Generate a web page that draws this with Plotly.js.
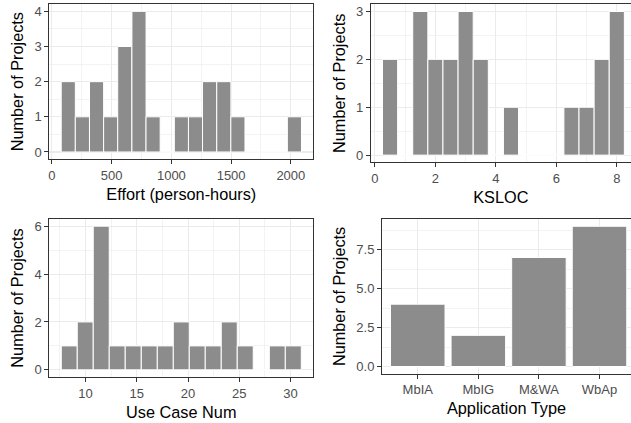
<!DOCTYPE html>
<html>
<head>
<meta charset="utf-8">
<script src="https://cdn.plot.ly/plotly-3.0.1.min.js"></script>
<style>html,body{margin:0;padding:0;background:#fff;}#chart{width:631px;height:423px;}</style>
</head>
<body>
<div id="chart"></div>
<script>
// Panel 1: Effort histogram (bin centers, counts)
const effortBins = [137, 255, 374, 492, 610, 729, 847, 965, 1084, 1202, 1320, 1439, 1557, 1675, 1794, 1912, 2030];
const effortCounts = [2, 1, 2, 1, 3, 4, 1, 0, 1, 1, 2, 2, 1, 0, 0, 0, 1];
const effortBinWidth = 118.3;

// Panel 2: KSLOC histogram
const klocBins = [0.5, 1.0, 1.5, 2.0, 2.5, 3.0, 3.5, 4.0, 4.5, 5.0, 5.5, 6.0, 6.5, 7.0, 7.5, 8.0];
const klocCounts = [2, 0, 3, 2, 2, 3, 2, 0, 1, 0, 0, 0, 1, 1, 2, 3];
const klocBinWidth = 0.5;

// Panel 3: Use case number histogram
const ucBins = [8.41, 9.97, 11.53, 13.09, 14.65, 16.22, 17.78, 19.34, 20.90, 22.46, 24.02, 25.58, 27.15, 28.71, 30.27];
const ucCounts = [1, 2, 6, 1, 1, 1, 1, 2, 1, 1, 2, 1, 0, 1, 1];
const ucBinWidth = 1.561;

// Panel 4: Application type bar chart
const appTypes = ["MbIA", "MbIG", "M&WA", "WbAp"];
const appCounts = [4, 2, 7, 9];

const FILL = "#8C8C8C";
const FONT = "Liberation Sans, Arial, sans-serif";
const TICKC = "#4D4D4D";
const LINEC = "#333333";
const GRID = "#EBEBEB";

function bar(x, y, w, xa, ya) {
  return {type: "bar", x: x, y: y, width: w, xaxis: xa, yaxis: ya,
    marker: {color: FILL, line: {color: "#FFFFFF", width: 1}},
    showlegend: false, hoverinfo: "skip"};
}

const traces = [
  bar(effortBins, effortCounts, effortBinWidth, "x", "y"),
  bar(klocBins, klocCounts, klocBinWidth, "x2", "y2"),
  bar(ucBins, ucCounts, ucBinWidth, "x3", "y3"),
  bar(appTypes, appCounts, 0.9, "x4", "y4")
];

function ax(o) {
  const base = {
    showline: true, linecolor: LINEC, linewidth: 1,
    ticks: "outside", ticklen: 4, tickwidth: 1, tickcolor: LINEC,
    tickfont: {family: FONT, size: 13, color: TICKC},
    showgrid: true, gridcolor: GRID, gridwidth: 1.1,
    zeroline: false, fixedrange: true, layer: "below traces",
    automargin: false
  };
  return Object.assign(base, o);
}
function ttl(t, s) {
  return {text: t, font: {family: FONT, size: 16.3, color: "#000"}, standoff: s};
}

const layout = {
  width: 631, height: 423,
  margin: {l: 0, r: 0, t: 0, b: 0},
  paper_bgcolor: "#fff", plot_bgcolor: "#fff",
  bargap: 0,
  xaxis: ax({domain: [0.0781, 0.4965], range: [-22, 2188], tickvals: [0, 500, 1000, 1500, 2000],
    minor: {tickvals: [250, 750, 1250, 1750], showgrid: true, gridcolor: GRID, gridwidth: 0.6, ticks: ""},
    mirror: true, anchor: "y", title: ttl("Effort (person-hours)", 6)}),
  yaxis: ax({domain: [0.6241, 0.9898], range: [-0.2, 4.2], tickvals: [0, 1, 2, 3, 4],
    minor: {tickvals: [0.5, 1.5, 2.5, 3.5], showgrid: true, gridcolor: GRID, gridwidth: 0.6, ticks: ""},
    mirror: true, anchor: "x", title: ttl("Number of Projects", 6)}),
  xaxis2: ax({domain: [0.5875, 1.0], range: [-0.14, 8.47], tickvals: [0, 2, 4, 6, 8],
    minor: {tickvals: [1, 3, 5, 7], showgrid: true, gridcolor: GRID, gridwidth: 0.6, ticks: ""},
    mirror: true, anchor: "y2", title: ttl("KSLOC", 6)}),
  yaxis2: ax({domain: [0.6163, 0.9898], range: [-0.15, 3.15], tickvals: [0, 1, 2, 3],
    minor: {tickvals: [0.5, 1.5, 2.5], showgrid: true, gridcolor: GRID, gridwidth: 0.6, ticks: ""},
    mirror: false, anchor: "x2", title: ttl("Number of Projects", 6)}),
  xaxis3: ax({domain: [0.0781, 0.4965], range: [6.46, 32.22], tickvals: [10, 15, 20, 25, 30],
    minor: {tickvals: [7.5, 12.5, 17.5, 22.5, 27.5], showgrid: true, gridcolor: GRID, gridwidth: 0.6, ticks: ""},
    mirror: true, anchor: "y3", title: ttl("Use Case Num", 6)}),
  yaxis3: ax({domain: [0.1087, 0.4823], range: [-0.3, 6.3], tickvals: [0, 2, 4, 6],
    minor: {tickvals: [1, 3, 5], showgrid: true, gridcolor: GRID, gridwidth: 0.6, ticks: ""},
    mirror: true, anchor: "x3", title: ttl("Number of Projects", 6)}),
  xaxis4: ax({domain: [0.6054, 1.0], range: [-0.59, 3.52], type: "category",
    mirror: true, anchor: "y4", title: ttl("Application Type", 6)}),
  yaxis4: ax({domain: [0.1170, 0.4816], range: [-0.45, 9.45], tickvals: [0, 2.5, 5, 7.5],
    ticktext: ["0.0", "2.5", "5.0", "7.5"],
    minor: {tickvals: [1.25, 3.75, 6.25, 8.75], showgrid: true, gridcolor: GRID, gridwidth: 0.6, ticks: ""},
    mirror: false, anchor: "x4", title: ttl("Number of Projects", 6)})
};

Plotly.newPlot("chart", traces, layout, {displayModeBar: false, staticPlot: true});
</script>
</body>
</html>
